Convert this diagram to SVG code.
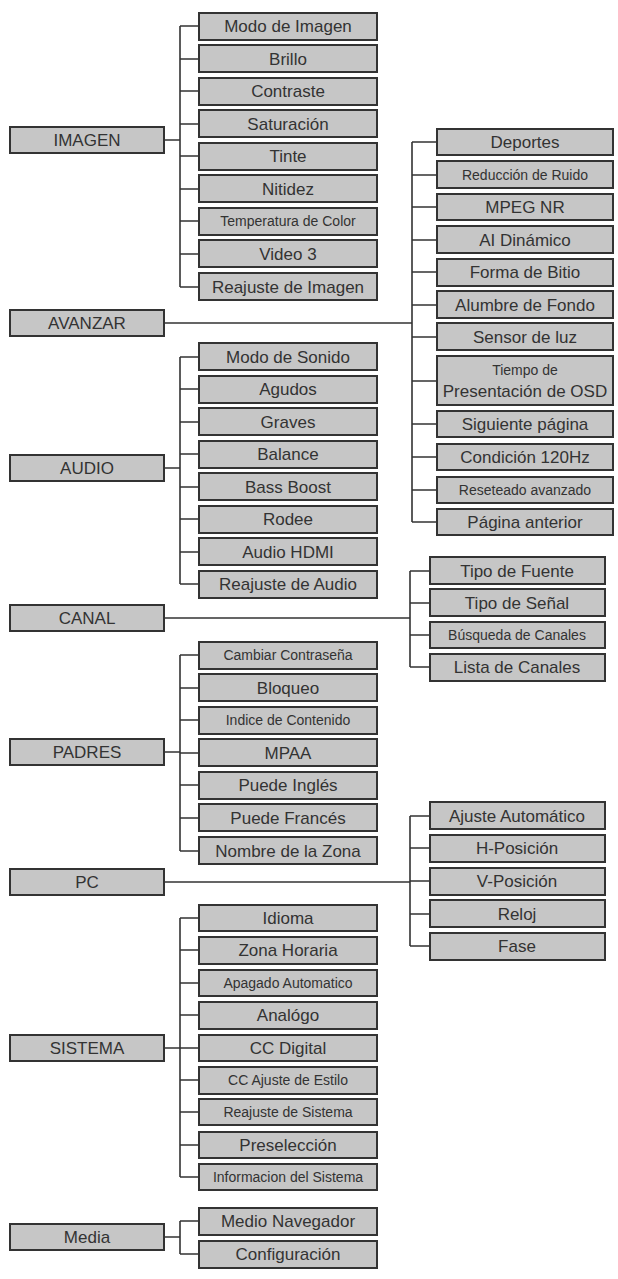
<svg xmlns="http://www.w3.org/2000/svg" width="618" height="1279" viewBox="0 0 618 1279">
<style>
rect{fill:#c6c6c6;stroke:#333;stroke-width:2}
text{font-family:"Liberation Sans",Arial,sans-serif;font-size:17px;fill:#333;text-anchor:middle;dominant-baseline:central}
.s{font-size:14px}
.c path{fill:none;stroke:#333;stroke-width:1.6}
</style>
<rect width="618" height="1279" style="fill:#fff;stroke:none"/>
<g class="c">
<path d="M164 140H180M180 26V287M180 26H199M180 59H199M180 91H199M180 124H199M180 156H199M180 189H199M180 221H199M180 254H199M180 287H199"/>
<path d="M164 323H412M412 142V522M412 142H437M412 175H437M412 207H437M412 240H437M412 272H437M412 305H437M412 337H437M412 381H437M412 424H437M412 457H437M412 490H437M412 522H437"/>
<path d="M164 468H180M180 357V584M180 357H199M180 389H199M180 422H199M180 454H199M180 487H199M180 519H199M180 552H199M180 584H199"/>
<path d="M164 618H410M410 571V667M410 571H430M410 603H430M410 635H430M410 667H430"/>
<path d="M164 752H180M180 655V851M180 655H199M180 688H199M180 720H199M180 753H199M180 785H199M180 818H199M180 851H199"/>
<path d="M164 882H410M410 816V946M410 816H430M410 848H430M410 881H430M410 914H430M410 946H430"/>
<path d="M164 1048H180M180 918V1177M180 918H199M180 950H199M180 983H199M180 1015H199M180 1048H199M180 1080H199M180 1112H199M180 1145H199M180 1177H199"/>
<path d="M164 1237H180M180 1221V1254M180 1221H199M180 1254H199"/>
</g>
<g id="imagen"><rect x="10" y="127" width="154" height="26"/><text x="87" y="140">IMAGEN</text></g>
<g id="avanzar"><rect x="10" y="310" width="154" height="26"/><text x="87" y="323">AVANZAR</text></g>
<g id="audio"><rect x="10" y="455" width="154" height="26"/><text x="87" y="468">AUDIO</text></g>
<g id="canal"><rect x="10" y="605" width="154" height="26"/><text x="87" y="618">CANAL</text></g>
<g id="padres"><rect x="10" y="739" width="154" height="26"/><text x="87" y="752">PADRES</text></g>
<g id="pc"><rect x="10" y="869" width="154" height="26"/><text x="87" y="882">PC</text></g>
<g id="sistema"><rect x="10" y="1035" width="154" height="26"/><text x="87" y="1048">SISTEMA</text></g>
<g id="media"><rect x="10" y="1224" width="154" height="26"/><text x="87" y="1237">Media</text></g>
<g id="img-items">
<rect x="199" y="13" width="178" height="27"/><text x="288" y="26">Modo de Imagen</text>
<rect x="199" y="45" width="178" height="27"/><text x="288" y="59">Brillo</text>
<rect x="199" y="78" width="178" height="27"/><text x="288" y="91">Contraste</text>
<rect x="199" y="110" width="178" height="27"/><text x="288" y="124">Saturación</text>
<rect x="199" y="143" width="178" height="27"/><text x="288" y="156">Tinte</text>
<rect x="199" y="175" width="178" height="27"/><text x="288" y="189">Nitidez</text>
<rect x="199" y="208" width="178" height="27"/><text x="288" y="221" class="s">Temperatura de Color</text>
<rect x="199" y="240" width="178" height="27"/><text x="288" y="254">Video 3</text>
<rect x="199" y="273" width="178" height="27"/><text x="288" y="287">Reajuste de Imagen</text>
</g>
<g id="av-items">
<rect x="437" y="129" width="176" height="26"/><text x="525" y="142">Deportes</text>
<rect x="437" y="161" width="176" height="27"/><text x="525" y="175" class="s">Reducción de Ruido</text>
<rect x="437" y="194" width="176" height="26"/><text x="525" y="207">MPEG NR</text>
<rect x="437" y="226" width="176" height="27"/><text x="525" y="240">AI Dinámico</text>
<rect x="437" y="259" width="176" height="27"/><text x="525" y="272">Forma de Bitio</text>
<rect x="437" y="291" width="176" height="27"/><text x="525" y="305">Alumbre de Fondo</text>
<rect x="437" y="323" width="176" height="27"/><text x="525" y="337">Sensor de luz</text>
<rect x="437" y="356" width="176" height="49"/><text x="525" y="370" class="s">Tiempo de</text><text x="525" y="391">Presentación de OSD</text>
<rect x="437" y="411" width="176" height="26"/><text x="525" y="424">Siguiente página</text>
<rect x="437" y="444" width="176" height="26"/><text x="525" y="457">Condición 120Hz</text>
<rect x="437" y="477" width="176" height="26"/><text x="525" y="490" class="s">Reseteado avanzado</text>
<rect x="437" y="509" width="176" height="26"/><text x="525" y="522">Página anterior</text>
</g>
<g id="au-items">
<rect x="199" y="343" width="178" height="27"/><text x="288" y="357">Modo de Sonido</text>
<rect x="199" y="376" width="178" height="27"/><text x="288" y="389">Agudos</text>
<rect x="199" y="408" width="178" height="27"/><text x="288" y="422">Graves</text>
<rect x="199" y="441" width="178" height="27"/><text x="288" y="454">Balance</text>
<rect x="199" y="473" width="178" height="27"/><text x="288" y="487">Bass Boost</text>
<rect x="199" y="506" width="178" height="27"/><text x="288" y="519">Rodee</text>
<rect x="199" y="538" width="178" height="27"/><text x="288" y="552">Audio HDMI</text>
<rect x="199" y="571" width="178" height="27"/><text x="288" y="584">Reajuste de Audio</text>
</g>
<g id="ca-items">
<rect x="430" y="557" width="175" height="27"/><text x="517" y="571">Tipo de Fuente</text>
<rect x="430" y="589" width="175" height="27"/><text x="517" y="603">Tipo de Señal</text>
<rect x="430" y="622" width="175" height="26"/><text x="517" y="635" class="s">Búsqueda de Canales</text>
<rect x="430" y="654" width="175" height="27"/><text x="517" y="667">Lista de Canales</text>
</g>
<g id="pa-items">
<rect x="199" y="642" width="178" height="27"/><text x="288" y="655" class="s">Cambiar Contraseña</text>
<rect x="199" y="674" width="178" height="27"/><text x="288" y="688">Bloqueo</text>
<rect x="199" y="707" width="178" height="27"/><text x="288" y="720" class="s">Indice de Contenido</text>
<rect x="199" y="739" width="178" height="27"/><text x="288" y="753">MPAA</text>
<rect x="199" y="772" width="178" height="27"/><text x="288" y="785">Puede Inglés</text>
<rect x="199" y="804" width="178" height="27"/><text x="288" y="818">Puede Francés</text>
<rect x="199" y="837" width="178" height="27"/><text x="288" y="851">Nombre de la Zona</text>
</g>
<g id="pc-items">
<rect x="430" y="802" width="175" height="27"/><text x="517" y="816">Ajuste Automático</text>
<rect x="430" y="835" width="175" height="27"/><text x="517" y="848">H-Posición</text>
<rect x="430" y="868" width="175" height="27"/><text x="517" y="881">V-Posición</text>
<rect x="430" y="900" width="175" height="27"/><text x="517" y="914">Reloj</text>
<rect x="430" y="933" width="175" height="27"/><text x="517" y="946">Fase</text>
</g>
<g id="si-items">
<rect x="199" y="905" width="178" height="26"/><text x="288" y="918">Idioma</text>
<rect x="199" y="937" width="178" height="27"/><text x="288" y="950">Zona Horaria</text>
<rect x="199" y="970" width="178" height="26"/><text x="288" y="983" class="s">Apagado Automatico</text>
<rect x="199" y="1002" width="178" height="27"/><text x="288" y="1015">Analógo</text>
<rect x="199" y="1035" width="178" height="26"/><text x="288" y="1048">CC Digital</text>
<rect x="199" y="1067" width="178" height="27"/><text x="288" y="1080" class="s">CC Ajuste de Estilo</text>
<rect x="199" y="1099" width="178" height="26"/><text x="288" y="1112" class="s">Reajuste de Sistema</text>
<rect x="199" y="1132" width="178" height="26"/><text x="288" y="1145">Preselección</text>
<rect x="199" y="1164" width="178" height="26"/><text x="288" y="1177" class="s">Informacion del Sistema</text>
</g>
<g id="me-items">
<rect x="199" y="1208" width="178" height="27"/><text x="288" y="1221">Medio Navegador</text>
<rect x="199" y="1241" width="178" height="27"/><text x="288" y="1254">Configuración</text>
</g>
</svg>
